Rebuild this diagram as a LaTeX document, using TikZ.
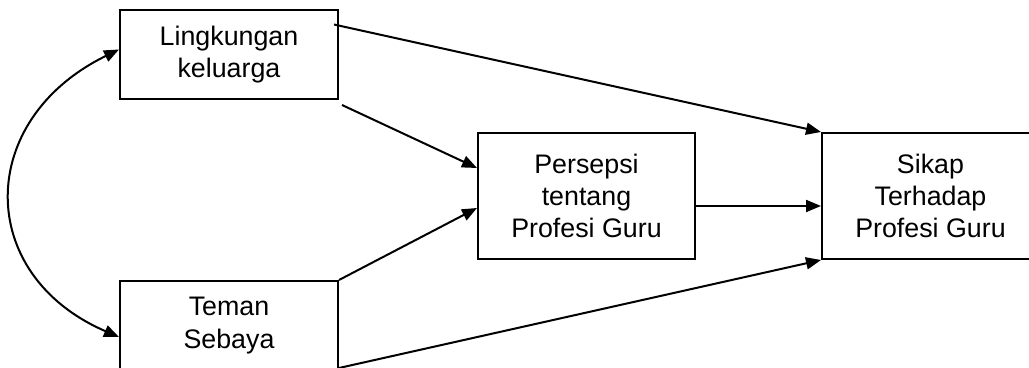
\documentclass[tikz,border=0pt]{standalone}
\usepackage{fontspec}
\setmainfont{Liberation Sans}
\usetikzlibrary{arrows.meta}
\tikzset{
  box/.style={draw, line width=1pt, align=center, inner sep=0pt,
    font=\fontsize{13.4pt}{16.2pt}\selectfont},
  smallbox/.style={box, minimum width=109pt, minimum height=44.5pt},
  bigbox/.style={box, minimum width=108.5pt, minimum height=63pt},
  conn/.style={line width=1pt, -{Triangle[length=7.5pt,width=6pt]}},
  bconn/.style={line width=1pt, {Triangle[length=7.5pt,width=6pt]}-{Triangle[length=7.5pt,width=6pt]}}
}
\begin{document}
\begin{tikzpicture}[x=0.5pt,y=-0.5pt]
\useasboundingbox (0,0) rectangle (1029,368);
\node[smallbox] (L) at (229,54.5) {Lingkungan\\keluarga};
\node[smallbox] (T) at (229,325.5) {Teman\\Sebaya};
\node[bigbox] (P) at (586.5,196) {Persepsi\\tentang\\Profesi Guru};
\node[bigbox] (S) at (930.5,196) {Sikap\\Terhadap\\Profesi Guru};
\coordinate (Lout1) at ([xshift=-2.5pt,yshift=15pt]L.east);
\coordinate (Lout2) at ([xshift=1.5pt,yshift=-2.5pt]L.south east);
\coordinate (Tout2) at ([yshift=1.5pt]T.south east);
\draw[conn] (Lout1) -- (S.north west);
\draw[conn] (Lout2) -- ([yshift=14pt]P.west);
\draw[conn] (T.north east) -- ([yshift=-6pt]P.west);
\draw[conn] ([yshift=-5pt]P.east) -- ([yshift=-5pt]S.west);
\draw[conn] (Tout2) -- (S.south west);
\draw[bconn] ([yshift=2.5pt]L.west) .. controls (-25,120) and (-25,275) .. ([yshift=-5.75pt]T.west);
\end{tikzpicture}
\end{document}
